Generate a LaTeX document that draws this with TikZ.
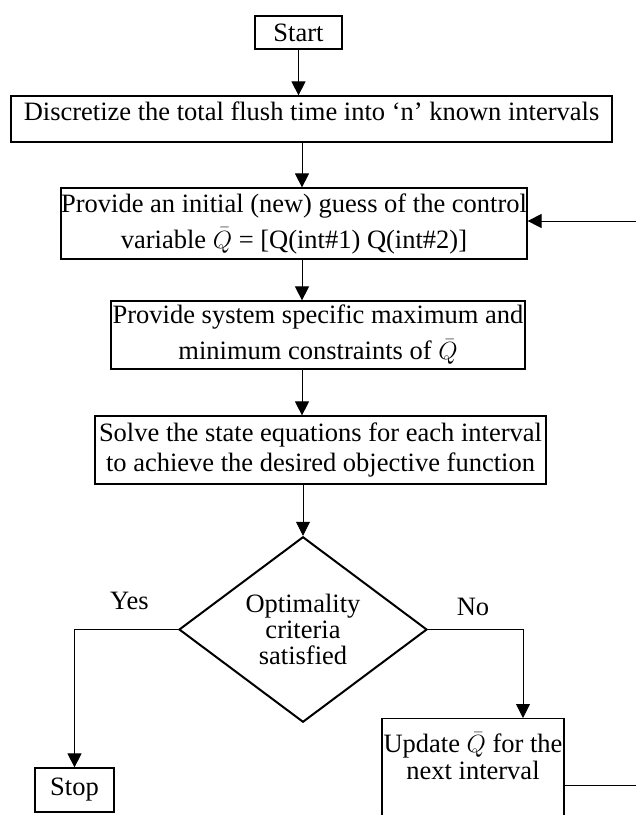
\documentclass[tikz,border=0pt]{standalone}
\usepackage{fontspec}
\setmainfont{Liberation Serif}
\usetikzlibrary{shapes.geometric,arrows.meta}
\begin{document}
\begin{tikzpicture}[x=1pt,y=-1pt,
  blk/.style={draw, line width=1.2pt, inner sep=0pt, align=center, font=\fontsize{26.5}{36}\selectfont},
  arr/.style={line width=0.9pt, -{Triangle[width=14pt,length=14pt]}},
  lbl/.style={inner sep=0pt, anchor=base, font=\fontsize{26.5}{30}\selectfont}]
\useasboundingbox (0,0) rectangle (636,815);
\node[blk, minimum width=87pt, minimum height=33pt] (start) at (298.5,32.5){Start};
\node[blk, minimum width=601pt, text height=24.7pt, text depth=21.3pt] (disc) at (311.5,119){Discretize the total flush time into ‘n’ known intervals};
\node[blk, minimum width=466pt, minimum height=71pt] (guess) at (294,223.5){Provide an initial (new) guess of the control\\variable $\bar{Q}$ = [Q(int\#1) Q(int\#2)]};
\node[blk, minimum width=414pt, minimum height=68pt] (cons) at (318,335){Provide system specific maximum and\\minimum constraints of $\bar{Q}$};
\node[blk, minimum width=451pt, minimum height=68pt, font=\fontsize{26.5}{30}\selectfont] (solve) at (320.5,450){Solve the state equations for each interval\\to achieve the desired objective function};
\node[blk, diamond, line width=2pt, minimum width=248pt, minimum height=161pt, font=\fontsize{26.5}{26}\selectfont] (opt) at (303,629.5){Optimality\\criteria\\satisfied};
\node[blk, minimum width=79pt, minimum height=44pt] (stop) at (74.5,790){Stop};
\node[blk, anchor=north, minimum width=182pt, inner ysep=14pt, text depth=75pt, font=\fontsize{26.5}{27}\selectfont] (upd) at (473,718){Update $\bar{Q}$ for the\\next interval};
\node[lbl] (yes) at (129.5,609){Yes};
\node[lbl] (no) at (473,615){No};
% spine of the main column, bend of the No branch, loop back
\coordinate (spine) at (302,0);
\coordinate (bend) at (523,0);
\coordinate (lowy) at (0,785);
\coordinate (loop) at (660,221);
\draw[arr] (start) -- (start |- disc.north);
\draw[arr] (disc.south -| spine) -- (guess.north -| spine);
\draw[arr] (guess.south -| spine) -- (cons.north -| spine);
\draw[arr] (cons.south -| spine) -- (solve.north -| spine);
\draw[arr] (solve.south -| opt) -- (opt);
\draw[arr] (opt.west) -| (stop);
\draw[arr] (opt.east) -| (upd.north -| bend);
\draw[arr] (upd.east |- lowy) -| (loop) -- (guess.east |- loop);
\end{tikzpicture}
\end{document}
